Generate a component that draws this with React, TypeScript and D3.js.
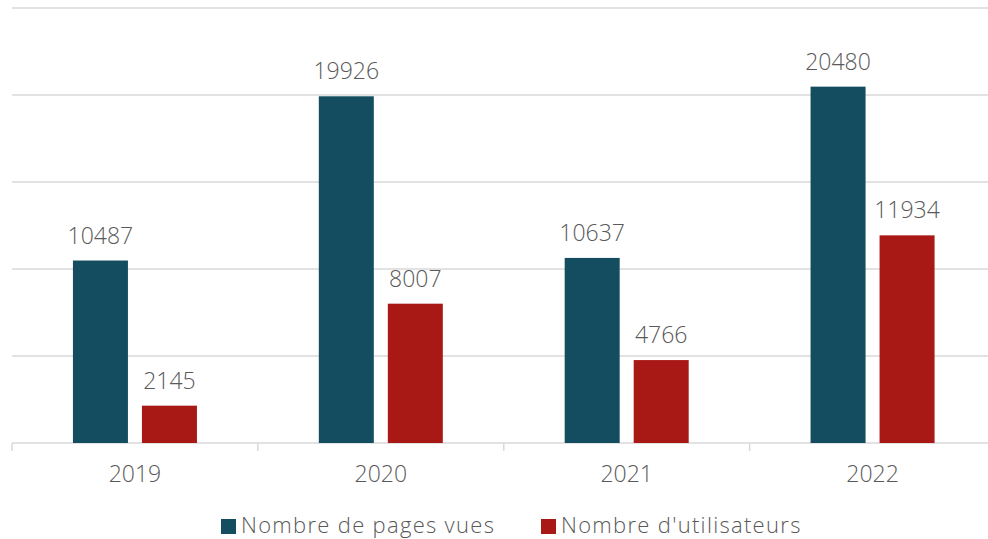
import React, { useEffect, useRef } from 'react';
import * as d3 from 'd3';

const years = ['2019', '2020', '2021', '2022'];
const seriesNames = ['Nombre de pages vues', "Nombre d'utilisateurs"];
const pageViews = [10487, 19926, 10637, 20480];
const users = [2145, 8007, 4766, 11934];
const yTicks = [0, 5000, 10000, 15000, 20000, 25000];

const colors = ['#134D5F', '#A81916'];
const font = '"Open Sans", Lato, sans-serif';
const textColor = '#595959';

const App = () => {
    const svgRef = useRef<SVGSVGElement>(null);

    useEffect(() => {
        const svg = d3.select(svgRef.current);
        svg.selectAll('*').remove();

        const width = 988, height = 539;
        const left = 12, right = 995.5, top = 8, bottom = 443;

        svg.attr('width', width).attr('height', height);

        const x = d3.scaleBand<string>().domain(years).range([left, right]);
        const xInner = d3.scaleBand<string>()
            .domain(seriesNames)
            .range([0, x.bandwidth()])
            .paddingInner(0.203)
            .paddingOuter(0.883);
        const y = d3.scaleLinear().domain([0, 25000]).range([bottom, top]);

        // gridlines
        svg.append('g')
            .selectAll('line')
            .data(yTicks)
            .enter()
            .append('line')
            .attr('x1', left)
            .attr('x2', width)
            .attr('y1', (d) => y(d))
            .attr('y2', (d) => y(d))
            .attr('stroke', '#D9D9D9')
            .attr('stroke-width', 1.5);

        // category ticks
        const boundaries = years.map((yr) => x(yr) as number).concat([right]);
        svg.append('g')
            .selectAll('line')
            .data(boundaries)
            .enter()
            .append('line')
            .attr('x1', (d) => d)
            .attr('x2', (d) => d)
            .attr('y1', bottom)
            .attr('y2', bottom + 8)
            .attr('stroke', '#D9D9D9')
            .attr('stroke-width', 1.5);

        const rows = years.map((yr, i) => ({ year: yr, values: [pageViews[i], users[i]] }));

        const groups = svg.append('g')
            .selectAll('g')
            .data(rows)
            .enter()
            .append('g')
            .attr('transform', (d) => `translate(${x(d.year)},0)`);

        const cells = groups.selectAll('g')
            .data((d) => d.values.map((v, j) => ({ name: seriesNames[j], value: v, idx: j })))
            .enter()
            .append('g');

        cells.append('rect')
            .attr('x', (d) => xInner(d.name) as number)
            .attr('width', xInner.bandwidth())
            .attr('y', (d) => y(d.value))
            .attr('height', (d) => bottom - y(d.value))
            .attr('fill', (d) => colors[d.idx]);

        cells.append('text')
            .attr('x', (d) => (xInner(d.name) as number) + xInner.bandwidth() / 2)
            .attr('y', (d) => y(d.value) - 17)
            .attr('text-anchor', 'middle')
            .attr('font-family', font)
            .attr('font-weight', 300)
            .attr('font-size', 23)
            .attr('fill', textColor)
            .text((d) => String(d.value));

        // year labels
        svg.append('g')
            .selectAll('text')
            .data(years)
            .enter()
            .append('text')
            .attr('x', (d) => (x(d) as number) + x.bandwidth() / 2)
            .attr('y', 482)
            .attr('text-anchor', 'middle')
            .attr('font-family', font)
            .attr('font-weight', 300)
            .attr('font-size', 23)
            .attr('fill', textColor)
            .text((d) => d);

        // legend
        const legendX = [221, 541];
        const legend = svg.append('g')
            .selectAll('g')
            .data(seriesNames)
            .enter()
            .append('g')
            .attr('transform', (d, i) => `translate(${legendX[i]},519)`);

        legend.append('rect')
            .attr('width', 15)
            .attr('height', 15)
            .attr('fill', (d, i) => colors[i]);

        legend.append('text')
            .attr('x', 20)
            .attr('y', 14)
            .attr('font-family', font)
            .attr('font-weight', 300)
            .attr('font-size', 22)
            .attr('letter-spacing', 1.3)
            .attr('fill', textColor)
            .text((d) => d);
    }, []);

    return (
        <svg ref={svgRef} style={{ position: 'absolute', left: 0, top: 0 }}></svg>
    );
};

export default App;
